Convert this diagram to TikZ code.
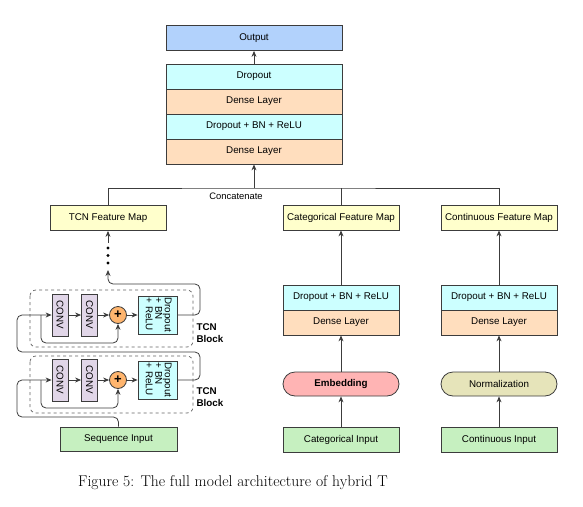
\documentclass[tikz,border=0pt]{standalone}
\usepackage{fontspec}
\setmainfont{Latin Modern Roman}
\newfontfamily\diagfont{Liberation Sans}
\usetikzlibrary{arrows.meta,positioning,calc}
\definecolor{cOut}{RGB}{178,210,252}
\definecolor{cDrop}{RGB}{204,255,255}
\definecolor{cDense}{RGB}{255,222,190}
\definecolor{cMap}{RGB}{255,255,204}
\definecolor{cIn}{RGB}{198,240,192}
\definecolor{cEmb}{RGB}{255,180,180}
\definecolor{cNorm}{RGB}{230,228,186}
\definecolor{cConv}{RGB}{225,214,232}
\definecolor{cPlus}{RGB}{255,181,110}
\definecolor{cLine}{RGB}{60,60,60}
\tikzset{
  layer/.style={draw=cLine, line width=0.8pt, minimum height=25pt, inner sep=0pt,
    font=\diagfont\fontsize{9.8}{11}\selectfont},
  wide/.style={layer, minimum width=176pt},
  narrow/.style={layer, minimum width=116pt},
  pill/.style={narrow, rounded corners=12pt, minimum height=24pt},
  convbox/.style={layer, fill=cConv, minimum width=16pt, minimum height=42pt},
  tdrop/.style={layer, fill=cDrop, minimum width=39pt, minimum height=38pt},
  plus/.style={circle, draw=cLine, line width=0.8pt, fill=cPlus, minimum size=17pt, inner sep=0pt,
    font=\diagfont\bfseries\fontsize{13}{13}\selectfont},
  conn/.style={draw=cLine, line width=0.8pt, -{Stealth[length=6pt,width=5pt]}},
  plain/.style={draw=cLine, line width=0.8pt},
  blockbox/.style={draw=cLine!80, dashed, line width=0.7pt, rounded corners=6pt},
  blocklabel/.style={font=\diagfont\bfseries\fontsize{9.8}{11.5}\selectfont, align=left},
}
\begin{document}
\begin{tikzpicture}[x=1pt,y=-1pt]
\useasboundingbox (0,0) rectangle (583,506);

% top stack
\node[wide, fill=cOut] (out) at (254,38) {Output};
\node[wide, fill=cDrop] (d1) at (254,76.5) {Dropout};
\node[wide, fill=cDense] (dense1) at (254,101.5) {Dense Layer};
\node[wide, fill=cDrop] (dbr) at (254,126.5) {Dropout + BN + ReLU};
\node[wide, fill=cDense] (dense2) at (254,151.5) {Dense Layer};
\draw[conn] (d1.north) -- (out.south);

% feature maps
\node[narrow, fill=cMap] (tcnfm) at (108,218) {TCN Feature Map};
\node[narrow, fill=cMap] (catfm) at (341,217.5) {Categorical Feature Map};
\node[narrow, fill=cMap] (confm) at (499,217.5) {Continuous Feature Map};

% concatenate
\coordinate (cc) at (254,188);
\draw[conn] (cc) -- (dense2.south);
\draw[plain] (tcnfm.north) |- (cc) -| (confm.north);
\draw[plain] (catfm.north) -- (catfm.north |- cc);
\node[font=\diagfont\fontsize{9.4}{11}\selectfont] (concat) at (236,196.5) {Concatenate};

% categorical branch
\node[narrow, fill=cDrop] (cdbr) at (341,297.5) {Dropout + BN + ReLU};
\node[narrow, fill=cDense] (cdense) at (341,322.5) {Dense Layer};
\node[pill, fill=cEmb, font=\diagfont\bfseries\fontsize{9.8}{11}\selectfont] (emb) at (341,384) {Embedding};
\node[narrow, fill=cIn] (catin) at (341,439.5) {Categorical Input};
\draw[conn] (cdbr.north) -- (catfm.south);
\draw[conn] (emb.north) -- (cdense.south);
\draw[conn] (catin.north) -- (emb.south);

% continuous branch
\node[narrow, fill=cDrop] (ndbr) at (499,297.5) {Dropout + BN + ReLU};
\node[narrow, fill=cDense] (ndense) at (499,322.5) {Dense Layer};
\node[pill, fill=cNorm] (norm) at (499,384) {Normalization};
\node[narrow, fill=cIn] (conin) at (499,439.5) {Continuous Input};
\draw[conn] (ndbr.north) -- (confm.south);
\draw[conn] (norm.north) -- (ndense.south);
\draw[conn] (conin.north) -- (norm.south);

% TCN blocks
\draw[blockbox] (30,290) rectangle (193,347);
\draw[blockbox] (30,356) rectangle (193,413);
\node[blocklabel] (lab1) at (210,333) {TCN\\Block};
\node[blocklabel] (lab2) at (210,397) {TCN\\Block};

\node[narrow, fill=cIn, minimum width=117pt, minimum height=24pt] (seqin) at (118.5,439) {Sequence Input};

% upper block
\node[convbox] (ca1) at (60,315) {\rotatebox{-90}{CONV}};
\node[convbox] (ca2) at (89.5,315) {\rotatebox{-90}{CONV}};
\node[plus] (pa) at (118,315) {+};
\node[tdrop] (ta) at (157.5,315) {\rotatebox{-90}{\begin{tabular}{@{}l@{}}Dropout\\[-1.5pt]+ BN\\[-1.5pt]+ ReLU\end{tabular}}};
% lower block
\node[convbox] (cb1) at (60,380) {\rotatebox{-90}{CONV}};
\node[convbox] (cb2) at (89.5,380) {\rotatebox{-90}{CONV}};
\node[plus] (pb) at (118,380) {+};
\node[tdrop] (tb) at (157.5,380) {\rotatebox{-90}{\begin{tabular}{@{}l@{}}Dropout\\[-1.5pt]+ BN\\[-1.5pt]+ ReLU\end{tabular}}};

\foreach \a/\b in {ca1/ca2, ca2/pa, pa/ta, cb1/cb2, cb2/pb, pb/tb}
  \draw[conn] (\a.east) -- (\b.west);

% input to lower block
\coordinate (ib1) at (118.5,417);
\coordinate (ib2) at (17,417);
\coordinate (ib3) at (17,380);
\draw[conn, rounded corners=5pt] (seqin.north) -- (ib1) -- (ib2) -- (ib3) -- (cb1.west);
% lower residual
\coordinate (rb0) at (41,380);
\coordinate (rb1) at (41,408);
\coordinate (rb2) at (118,408);
\draw[conn, rounded corners=5pt] (rb0) -- (rb1) -- (rb2) -- (pb.south);
% lower to upper
\coordinate (lu1) at (200,380);
\coordinate (lu2) at (200,352);
\coordinate (lu3) at (17,352);
\coordinate (lu4) at (17,315);
\draw[conn, rounded corners=5pt] (tb.east) -- (lu1) -- (lu2) -- (lu3) -- (lu4) -- (ca1.west);
% upper residual
\coordinate (ra0) at (41,315);
\coordinate (ra1) at (41,343);
\coordinate (ra2) at (118,343);
\draw[conn, rounded corners=5pt] (ra0) -- (ra1) -- (ra2) -- (pa.south);
% upper output
\coordinate (uo1) at (200,315);
\coordinate (uo2) at (200,284);
\coordinate (uo3) at (108,284);
\coordinate (uo4) at (108,270);
\draw[conn, rounded corners=5pt] (ta.east) -- (uo1) -- (uo2) -- (uo3) -- (uo4);
% dots
\foreach \y in {248,255.5,263} \fill[black] (108,\y) circle (1.7pt);
\coordinate (dt) at (108,243);
\draw[conn] (dt) -- (tcnfm.south);

% caption
\node[anchor=base west, inner sep=0pt, font=\fontsize{15.6}{18}\selectfont] (cap) at (78,486) {Figure 5: The full model architecture of hybrid T};
\end{tikzpicture}
\end{document}
